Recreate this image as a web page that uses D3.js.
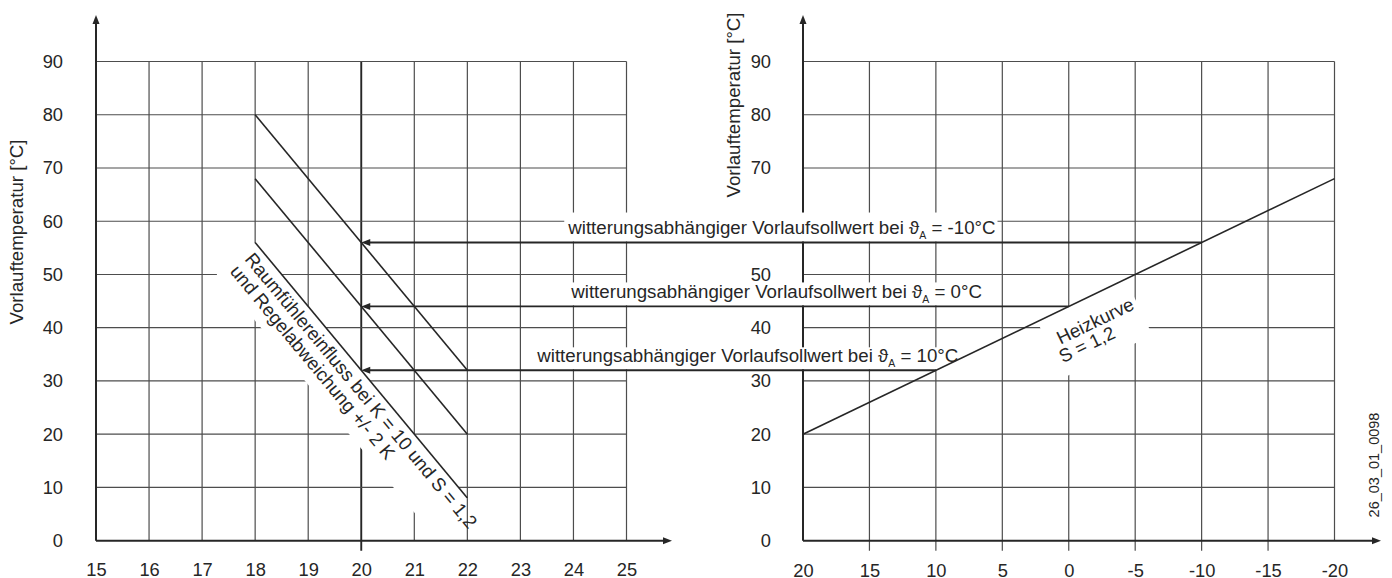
<!DOCTYPE html>
<html><head><meta charset="utf-8">
<script src="https://cdn.jsdelivr.net/npm/d3@7"></script>
<style>
html,body{margin:0;padding:0;background:#fff;}
svg{display:block;font-family:"Liberation Sans",Arial,sans-serif;}
</style></head><body>
<svg id="c" width="1392" height="578"></svg>
<script>
// ---------- data ----------
const yTicks = [0,10,20,30,40,50,60,70,80,90];
const roomTempTicks = [15,16,17,18,19,20,21,22,23,24,25];
const outdoorTicks = [20,15,10,5,0,-5,-10,-15,-20];
const heatingCurveTa = [20,-20];
const heatingCurveFlow = [20,68];
const roomTempEnds = [18,22];
const roomLineFlowAt18 = [80,68,56];
const roomLineFlowAt22 = [32,20,8];
const setpointTa = [-10,0,10];
const setpointFlow = [56,44,32];
const setpointLabels = ["-10°C","0°C","10°C"];
const yAxisTitle = "Vorlauftemperatur [°C]";
const roomLabelLines = ["Raumfühlereinfluss bei K = 10 und S = 1,2","und Regelabweichung +/- 2 K"];
const curveLabelLines = ["Heizkurve","S = 1,2"];
const docId = "26_03_01_0098";

// ---------- drawing ----------
const svg = d3.select("#c");
const INK = "#262626", GRID = "#4d4d4d";
const FS = 18.7;
const y  = d3.scaleLinear().domain([0,90]).range([540.7,61.5]);
const xL = d3.scaleLinear().domain([15,25]).range([96,626.5]);
const xR = d3.scaleLinear().domain([20,-20]).range([803,1334.5]);
const fmt = d => String(d);

// grids
const grid = svg.append("g").attr("stroke",GRID).attr("stroke-width",1.2);
grid.selectAll(".lv").data(roomTempTicks.filter(d=>d!==15)).join("line")
  .attr("x1",d=>xL(d)).attr("x2",d=>xL(d))
  .attr("y1",y(90)).attr("y2",d=>d===20?y(0)+10:y(0))
  .attr("stroke",d=>d===20?INK:GRID).attr("stroke-width",d=>d===20?1.9:1.2);
grid.selectAll(".lh").data(yTicks.filter(d=>d!==0)).join("line")
  .attr("x1",xL(15)).attr("x2",xL(25)).attr("y1",d=>y(d)).attr("y2",d=>y(d));
const rg = svg.append("g").attr("stroke",GRID).attr("stroke-width",1.2);
rg.selectAll(".rv").data(outdoorTicks.filter(d=>d!==20)).join("line")
  .attr("x1",d=>xR(d)).attr("x2",d=>xR(d))
  .attr("y1",y(90)).attr("y2",d=>d===-20?y(0):y(0)+10);
rg.selectAll(".rh").data(yTicks.filter(d=>d!==0)).join("line")
  .attr("x1",xR(20)).attr("x2",xR(-20)).attr("y1",d=>y(d)).attr("y2",d=>y(d));

// rotated room-sensor label box (under the axes)
const roomAngle = Math.atan2(y(roomLineFlowAt22[2])-y(roomLineFlowAt18[2]), xL(22)-xL(18))*180/Math.PI;
const roomLen = Math.hypot(y(roomLineFlowAt22[2])-y(roomLineFlowAt18[2]), xL(22)-xL(18));
const rl = svg.append("g").attr("transform",`translate(${xL(18)},${y(roomLineFlowAt18[2])}) rotate(${roomAngle})`);
rl.append("rect").attr("x",0).attr("y",0).attr("width",roomLen).attr("height",50).attr("fill","#fff");

// axes lines with arrowheads
function axisArrowV(g,x){
  g.append("line").attr("x1",x).attr("x2",x).attr("y1",y(0)).attr("y2",22)
    .attr("stroke",INK).attr("stroke-width",2);
  g.append("path").attr("d",`M${x},15 L${x-3.5},24 L${x+3.5},24 Z`).attr("fill",INK);
}
function axisArrowH(g,x0,x1){
  g.append("line").attr("x1",x0).attr("x2",x1-6).attr("y1",y(0)).attr("y2",y(0))
    .attr("stroke",INK).attr("stroke-width",2);
  g.append("path").attr("d",`M${x1},${y(0)} L${x1-9},${y(0)-3.5} L${x1-9},${y(0)+3.5} Z`).attr("fill",INK);
}
const ax = svg.append("g");
axisArrowV(ax,xL(15)); axisArrowH(ax,xL(15),672);
axisArrowV(ax,xR(20)); axisArrowH(ax,xR(20),1381);

// tick labels through d3 axes
function styleAxis(g){
  g.select(".domain").remove();
  g.selectAll("line").remove();
  g.attr("font-family",null).attr("font-size",18.3);
  g.selectAll("text").attr("fill",INK);
}
svg.append("g").attr("transform",`translate(${xL(15)},0)`)
  .call(d3.axisLeft(y).tickValues(yTicks).tickFormat(fmt).tickSize(0).tickPadding(33)).call(styleAxis);
svg.append("g").attr("transform",`translate(${xR(20)},0)`)
  .call(d3.axisLeft(y).tickValues(yTicks).tickFormat(fmt).tickSize(0).tickPadding(32)).call(styleAxis);
svg.append("g").attr("transform",`translate(0,${y(0)})`)
  .call(d3.axisBottom(xL).tickValues(roomTempTicks).tickFormat(fmt).tickSize(0).tickPadding(22.5)).call(styleAxis);
svg.append("g").attr("transform",`translate(0,${y(0)})`)
  .call(d3.axisBottom(xR).tickValues(outdoorTicks).tickFormat(fmt).tickSize(0).tickPadding(23.5)).call(styleAxis);

// axis titles
svg.append("text").attr("transform",`translate(23,232) rotate(-90)`).attr("text-anchor","middle")
  .attr("font-size",FS).attr("fill",INK).text(yAxisTitle);
svg.append("text").attr("transform",`translate(740,105) rotate(-90)`).attr("text-anchor","middle")
  .attr("font-size",FS).attr("fill",INK).text(yAxisTitle);
svg.append("text").attr("transform",`translate(1379,465) rotate(-90)`).attr("text-anchor","middle")
  .attr("font-size",14.5).attr("fill",INK).text(docId);

// room label text
rl.selectAll("text").data(roomLabelLines).join("text")
  .attr("x",6).attr("y",(d,i)=>19.5+i*19.2).attr("font-size",FS).attr("fill",INK).text(d=>d);

// heating-curve label box + text
const hc = d3.scaleLinear().domain(heatingCurveTa).range(heatingCurveFlow);
const curveAngle = Math.atan2(y(heatingCurveFlow[1])-y(heatingCurveFlow[0]), xR(heatingCurveTa[1])-xR(heatingCurveTa[0]))*180/Math.PI;
const hl = svg.append("g").attr("transform",`translate(${xR(0)},${y(hc(0))}) rotate(${curveAngle})`);
hl.append("rect").attr("x",-35).attr("y",0).attr("width",98).attr("height",62).attr("fill","#fff");
hl.selectAll("text").data(curveLabelLines).join("text")
  .attr("x",(d,i)=>i?-30:-24).attr("y",(d,i)=>31+i*17.5).attr("font-size",FS).attr("fill",INK).text(d=>d);

// horizontal setpoint labels with white boxes
const labelOffsets = [207,210,176];
const boxTops = [30,24,23];
setpointLabels.forEach((lab,i)=>{
  const yy = y(setpointFlow[i]);
  const g = svg.append("g");
  const r = g.append("rect").attr("fill","#fff");
  const t = g.append("text").attr("x",xL(20)+labelOffsets[i]).attr("y",yy-8.5)
    .attr("font-size",FS).attr("fill",INK);
  t.append("tspan").text("witterungsabhängiger Vorlaufsollwert bei ϑ");
  t.append("tspan").attr("font-size",10.5).attr("dy",5).text("A");
  t.append("tspan").attr("dy",-5).text(" = "+lab);
  const bb = t.node().getBBox();
  r.attr("x",bb.x-3).attr("y",yy-boxTops[i]).attr("width",bb.width+5).attr("height",boxTops[i]-1);
});

// room influence lines
const lineG = svg.append("g").attr("stroke",INK).attr("stroke-width",1.6).attr("fill","none");
roomLineFlowAt18.forEach((v,i)=>{
  lineG.append("line").attr("x1",xL(roomTempEnds[0])).attr("y1",y(v))
    .attr("x2",xL(roomTempEnds[1])).attr("y2",y(roomLineFlowAt22[i]));
});
// heating curve
lineG.append("path").datum(heatingCurveTa.map((t,i)=>[t,heatingCurveFlow[i]]))
  .attr("d",d3.line().x(d=>xR(d[0])).y(d=>y(d[1])));

// arrows
setpointTa.forEach((t,i)=>{
  const yy = y(setpointFlow[i]);
  const xe = xL(20);
  svg.append("line").attr("x1",xR(t)).attr("x2",xe+5).attr("y1",yy).attr("y2",yy)
    .attr("stroke",INK).attr("stroke-width",1.9);
  svg.append("path").attr("d",`M${xe},${yy} L${xe+9},${yy-3.5} L${xe+9},${yy+3.5} Z`).attr("fill",INK);
});
</script>
</body></html>
